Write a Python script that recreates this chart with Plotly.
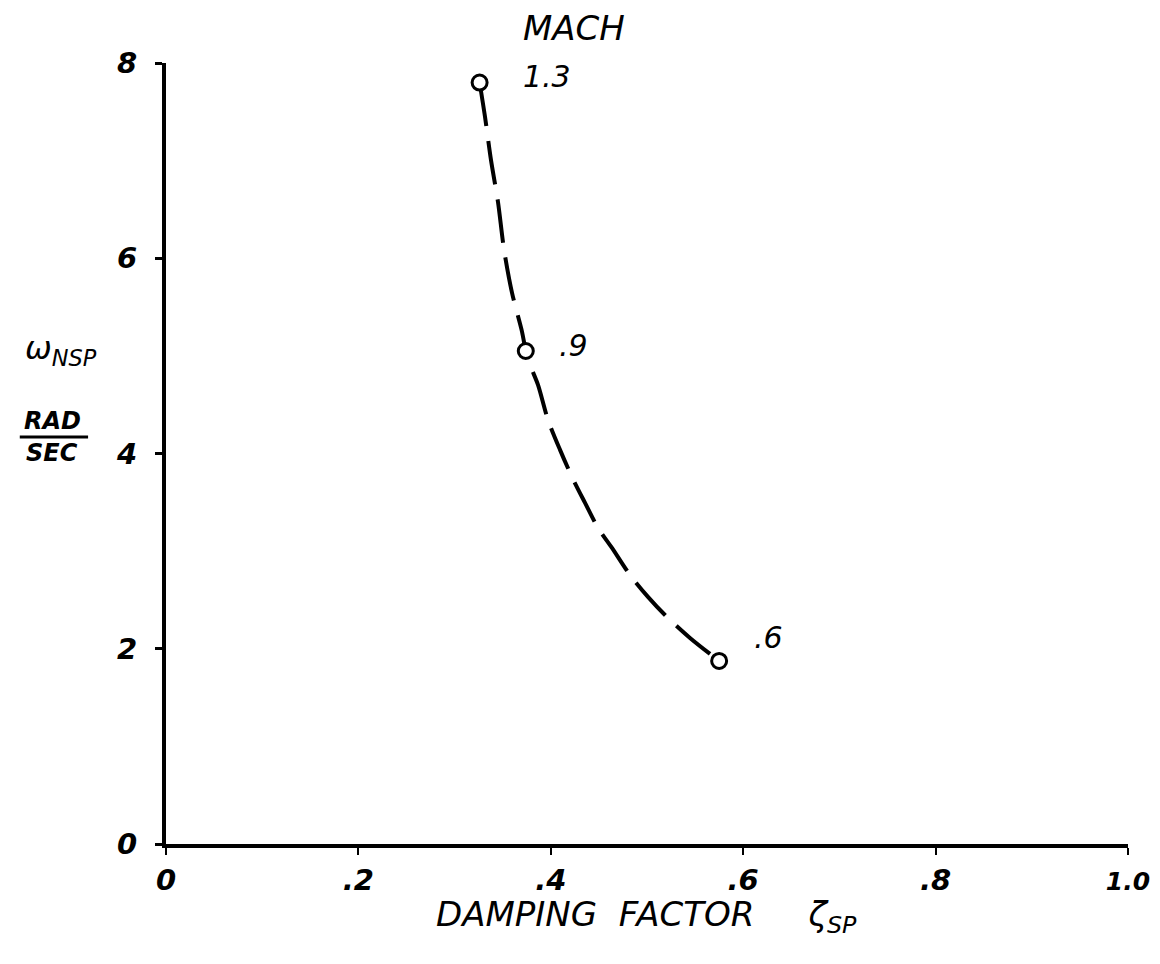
import plotly.graph_objects as go

# Measured Mach points (damping factor, natural frequency rad/sec)
damping = [0.326, 0.374, 0.575]
omega = [7.80, 5.05, 1.875]
mach_labels = ["1.3", ".9", ".6"]

# Hand-drawn fairing curve
curve_x = [0.326, 0.3316, 0.3378, 0.3451, 0.3514, 0.3597, 0.3701, 0.374, 0.3784,
           0.3867, 0.3971, 0.4096, 0.4220, 0.4356, 0.4491, 0.4636, 0.4823, 0.5010,
           0.5187, 0.5447, 0.575]
curve_y = [7.80, 7.449, 7.008, 6.576, 6.086, 5.645, 5.246, 5.05, 4.908,
           4.703, 4.344, 4.037, 3.760, 3.494, 3.238, 3.033, 2.756, 2.531,
           2.346, 2.111, 1.875]

x_tickvals = [0, 0.2, 0.4, 0.6, 0.8, 1.0]
x_ticktext = ["0", ".2", ".4", ".6", ".8", "<span style='font-size:25px'>1.0</span>"]
y_tickvals = [0, 2, 4, 6, 8]
y_ticktext = ["0", "2", "4", "6", "8"]

FONT = "DejaVu Sans"
tickfont = dict(family=FONT, size=29, color="black", style="italic", weight="bold")
labfont = dict(family=FONT, size=30, color="black", style="italic")

fig = go.Figure()
fig.add_trace(go.Scatter(
    x=curve_x, y=curve_y, mode="lines",
    line=dict(color="black", width=4, dash="44px,15px", shape="spline", smoothing=0.8),
    hoverinfo="skip", showlegend=False,
))
fig.add_trace(go.Scatter(
    x=damping, y=omega, mode="markers",
    marker=dict(symbol="circle", size=15, color="white", line=dict(width=3, color="black")),
    showlegend=False, cliponaxis=False,
))

# Mach labels (data coords)
label_pos = [(0.369, 7.86), (0.4065, 5.11), (0.609, 2.12)]
for (lx, ly), t in zip(label_pos, mach_labels):
    fig.add_annotation(x=lx, y=ly, text=t, showarrow=False, xanchor="left",
                       yanchor="middle", font=labfont)
fig.add_annotation(xref="paper", yref="paper", x=0.369, y=1.045, text="MACH",
                   showarrow=False, xanchor="left", yanchor="middle",
                   font=dict(family=FONT, size=34, color="black", style="italic"))

# Axis titles
fig.add_annotation(xref="paper", yref="paper", x=0.4995, y=-0.093,
                   text="DAMPING\u00a0\u00a0FACTOR\u00a0\u00a0\u00a0\u00a0\u00a0ζ<sub>SP</sub>",
                   showarrow=False, xanchor="center", yanchor="middle",
                   font=dict(family=FONT, size=34, color="black", style="italic"))
fig.add_annotation(xref="paper", yref="paper", x=-0.109, y=0.6325,
                   text="ω<sub>NSP</sub>", showarrow=False,
                   xanchor="center", yanchor="middle",
                   font=dict(family=FONT, size=32, color="black", style="italic"))
fig.add_annotation(xref="paper", yref="paper", x=-0.1185, y=0.541,
                   text="RAD", showarrow=False, xanchor="center", yanchor="middle",
                   font=dict(family=FONT, size=24, color="black", style="italic", weight="bold"))
fig.add_annotation(xref="paper", yref="paper", x=-0.1185, y=0.501,
                   text="SEC", showarrow=False, xanchor="center", yanchor="middle",
                   font=dict(family=FONT, size=24, color="black", style="italic", weight="bold"))
fig.add_shape(type="line", xref="paper", yref="paper", x0=-0.152, x1=-0.081,
              y0=0.521, y1=0.521, line=dict(color="black", width=3))

fig.update_xaxes(range=[0, 1.0], tickvals=x_tickvals, ticktext=x_ticktext,
                 showline=True, linecolor="black", linewidth=4, mirror=False,
                 ticks="outside", ticklen=7, tickwidth=2, tickcolor="black",
                 showgrid=False, zeroline=False, tickfont=tickfont,
                 ticklabelstandoff=0)
fig.update_yaxes(range=[0, 8], tickvals=y_tickvals, ticktext=y_ticktext,
                 showline=True, linecolor="black", linewidth=4, mirror=False,
                 ticks="outside", ticklen=7, tickwidth=3, tickcolor="black",
                 showgrid=False, zeroline=False, tickfont=tickfont,
                 ticklabelstandoff=12)

fig.update_layout(width=1160, height=964, plot_bgcolor="white", paper_bgcolor="white",
                  margin=dict(l=158, r=40, t=55, b=128), showlegend=False)

fig.write_html("out.html")
